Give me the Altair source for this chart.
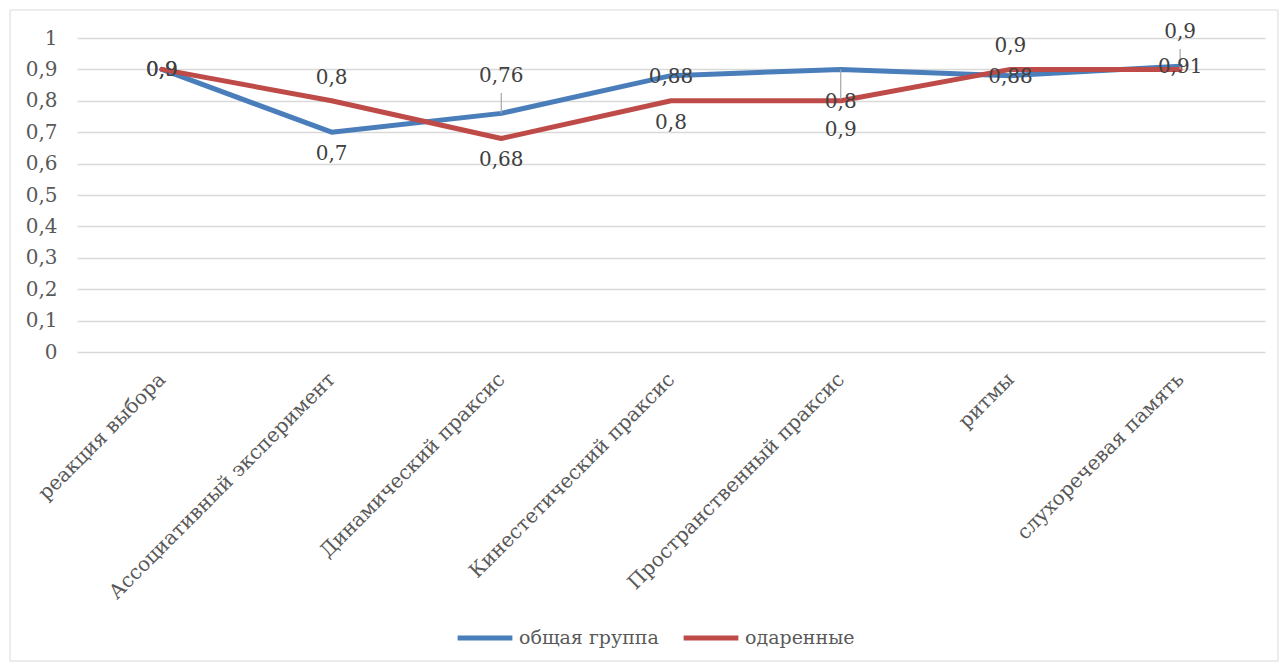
import altair as alt
import pandas as pd

categories = ["реакция выбора", "Ассоциативный эксперимент", "Динамический праксис",
              "Кинестетический праксис", "Пространственный праксис", "ритмы", "слухоречевая память"]
series_names = ["общая группа", "одаренные"]
general = [0.9, 0.7, 0.76, 0.88, 0.9, 0.88, 0.91]
gifted = [0.9, 0.8, 0.68, 0.8, 0.8, 0.9, 0.9]
# label placement relative to the point (as Excel placed them)
general_place = ["center", "below", "leader_above", "center", "leader_below", "center", "center"]
gifted_place = ["center", "above", "below", "below", "center", "above", "leader_above"]
y_ticks = [0, 0.1, 0.2, 0.3, 0.4, 0.5, 0.6, 0.7, 0.8, 0.9, 1]

rows = []
for s, vals, places in [(series_names[0], general, general_place), (series_names[1], gifted, gifted_place)]:
    for c, v, p in zip(categories, vals, places):
        rows.append({"cat": c, "series": s, "v": v, "place": p})
df = pd.DataFrame(rows)

W, H = 1188, 314
FONT = "DejaVu Serif"

x_enc = alt.X("cat:N", sort=categories, title=None,
              scale=alt.Scale(type="point", padding=0.5),
              axis=alt.Axis(labelAngle=-45, labelAlign="right", labelBaseline="middle",
                            labelPadding=24, ticks=False, domain=False, grid=False,
                            labelFontSize=20, labelColor="#595959",
                            labelLimit=0, labelOverlap=False))
y_enc = alt.Y("v:Q", scale=alt.Scale(domain=[0, 1], nice=False, zero=True), title=None,
              axis=alt.Axis(values=y_ticks, labelOverlap=False,
                            labelExpr="replace(format(datum.value, '~g'), '.', ',')",
                            ticks=False, domain=False, grid=True, gridColor="#d9d9d9",
                            gridWidth=1.5, labelPadding=20,
                            labelFontSize=20, labelColor="#595959"))
color = alt.Color("series:N", scale=alt.Scale(domain=series_names, range=["#4a7ebb", "#be4b48"]),
                  legend=alt.Legend(title=None, orient="none", legendX=378, legendY=570,
                                    direction="horizontal", columns=2, columnPadding=14,
                                    symbolType="stroke", symbolSize=3000, symbolStrokeWidth=5,
                                    labelFontSize=19, labelColor="#595959",
                                    labelOffset=4))

base = alt.Chart(df)

lines = base.mark_line(strokeWidth=5, strokeJoin="round", strokeCap="round").encode(
    x=x_enc, y=y_enc, color=color, order=alt.Order("series:N"))

leaders = base.transform_filter(
    "datum.place == 'leader_above' || datum.place == 'leader_below'"
).transform_calculate(
    v2="datum.place == 'leader_above' ? datum.v + 0.065 : datum.v - 0.095"
).mark_rule(color="#a6a6a6", strokeWidth=1.2).encode(
    x=x_enc, y=y_enc, y2="v2:Q")

text_base = base.transform_calculate(
    lbl="replace(format(datum.v, '~g'), '.', ',')")

offsets = {"center": 1, "above": -23, "below": 22, "leader_above": -37, "leader_below": 61}
text_layers = []
for p, dy in offsets.items():
    text_layers.append(
        text_base.transform_filter(alt.datum.place == p).mark_text(
            fontSize=20, color="#404040", dy=dy, baseline="middle"
        ).encode(x=x_enc, y=y_enc, text="lbl:N"))

border = alt.Chart(pd.DataFrame({"a": [0]})).mark_rect(
    fill=None, stroke="#d9d9d9", strokeWidth=1).encode(
    x=alt.value(-67), x2=alt.value(1201), y=alt.value(-28), y2=alt.value(623))

chart = alt.layer(border, lines, leaders, *text_layers).properties(
    width=W, height=H,
    padding={"left": 77, "top": 38, "right": 17, "bottom": 313},
    autosize=alt.AutoSizeParams(type="none"),
    background="white",
).configure(font=FONT).configure_axis(labelFont=FONT).configure_legend(
    labelFont=FONT).configure_text(font=FONT).configure_view(stroke=None)

chart.save("out.html", embed_options={"renderer": "svg", "actions": False})
